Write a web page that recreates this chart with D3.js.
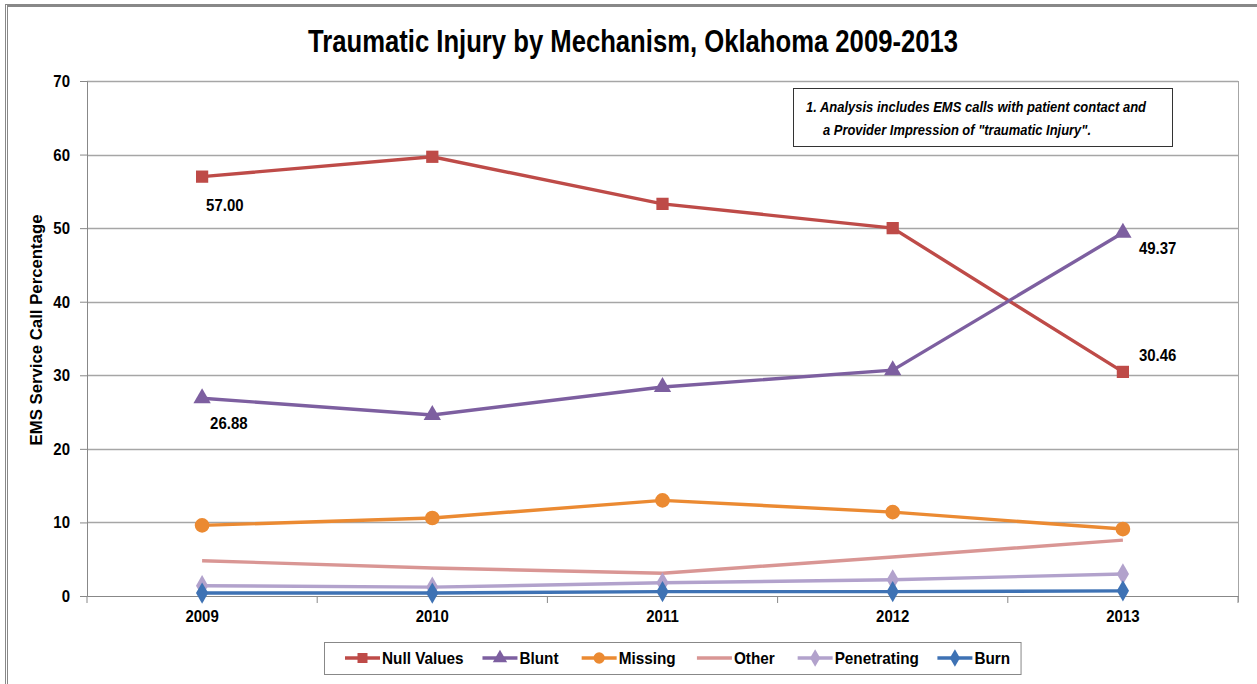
<!DOCTYPE html>
<html>
<head>
<meta charset="utf-8">
<script src="https://cdn.jsdelivr.net/npm/d3@7"></script>
<style>
  body { margin: 0; background: #fff; }
  text { font-family: "Liberation Sans Narrow", "Arial Narrow", "Liberation Sans", Arial, sans-serif; }
</style>
</head>
<body>
<div id="d3-container"></div>
<script>
// Data
const years = ["2009", "2010", "2011", "2012", "2013"];
const nullValues = [57.00, 59.7, 53.3, 50.0, 30.46];
const blunt = [26.88, 24.6, 28.4, 30.7, 49.37];
const missing = [9.6, 10.6, 13.0, 11.4, 9.1];
const other = [4.8, 3.8, 3.1, 5.3, 7.6];
const penetrating = [1.4, 1.2, 1.8, 2.2, 3.0];
const burn = [0.4, 0.4, 0.6, 0.6, 0.7];
const yTicks = [0, 10, 20, 30, 40, 50, 60, 70];

const series = [
  { name: "Null Values", values: nullValues, color: "#BE4B48", marker: "square" },
  { name: "Blunt", values: blunt, color: "#7D5FA0", marker: "triangle" },
  { name: "Missing", values: missing, color: "#EB8A32", marker: "circle" },
  { name: "Other", values: other, color: "#D99694", marker: "none" },
  { name: "Penetrating", values: penetrating, color: "#B2A2CC", marker: "diamond" },
  { name: "Burn", values: burn, color: "#3E72B4", marker: "diamond" }
];

const width = 1257;
const height = 684;
const margin = { top: 81, bottom: 88, left: 87, right: 19 };

const svg = d3.select('#d3-container')
  .append('svg')
  .attr('width', width)
  .attr('height', height);

// squeeze text a bit, the original uses a narrow font
function narrow(sel, k) {
  sel.each(function () {
    const w = this.getComputedTextLength();
    d3.select(this).attr("textLength", w * k).attr("lengthAdjust", "spacingAndGlyphs");
  });
}

// outer frame
svg.append("rect")
  .attr("x", 6.5).attr("y", 5.5)
  .attr("width", width + 20).attr("height", height + 20)
  .attr("fill", "none").attr("stroke", "#888").attr("stroke-width", 3);
svg.append("line")
  .attr("x1", 6.5).attr("x2", 6.5).attr("y1", 5).attr("y2", height)
  .attr("stroke", "#fff").attr("stroke-width", 1);

const x = d3.scaleBand()
  .domain(years)
  .range([margin.left, width - margin.right]);

const y = d3.scaleLinear()
  .domain([0, 70])
  .range([height - margin.bottom, margin.top]);

const cx = d => x(d) + x.bandwidth() / 2;

// Title
svg.append("text")
  .attr("x", 633)
  .attr("y", 52)
  .attr("text-anchor", "middle")
  .attr("font-size", "32px")
  .attr("font-weight", "bold")
  .attr("textLength", 650)
  .attr("lengthAdjust", "spacingAndGlyphs")
  .text("Traumatic Injury by Mechanism, Oklahoma 2009-2013");

// Horizontal grid lines
svg.selectAll(".grid")
  .data(yTicks.filter(d => d > 0))
  .enter()
  .append("line")
  .attr("x1", margin.left)
  .attr("x2", width - margin.right)
  .attr("y1", d => Math.round(y(d)) + 0.5)
  .attr("y2", d => Math.round(y(d)) + 0.5)
  .style("stroke", "#A6A6A6")
  .style("stroke-width", 1.5);

// right border of plot area
svg.append("line")
  .attr("x1", width - margin.right + 0.5).attr("x2", width - margin.right + 0.5)
  .attr("y1", margin.top).attr("y2", y(0) + 6)
  .style("stroke", "#A6A6A6");

// Axes
const yAxis = svg.append("g")
  .attr("transform", `translate(${margin.left},0)`)
  .call(d3.axisLeft(y).tickValues(yTicks).tickSize(7).tickPadding(10));
yAxis.select(".domain").attr("stroke", "#888");
yAxis.selectAll(".tick line").attr("stroke", "#888");
yAxis.selectAll("text")
  .attr("font-size", "17px").attr("font-weight", "bold").attr("fill", "#000")
  .attr("font-family", "'Liberation Sans Narrow', 'Arial Narrow', sans-serif");
narrow(yAxis.selectAll("text"), 0.88);

const xAxis = svg.append("g")
  .attr("transform", `translate(0,${y(0)})`)
  .call(d3.axisBottom(x).tickSize(0).tickPadding(14));
xAxis.select(".domain").attr("stroke", "#888");
xAxis.selectAll("text")
  .attr("font-size", "17px").attr("font-weight", "bold").attr("fill", "#000")
  .attr("font-family", "'Liberation Sans Narrow', 'Arial Narrow', sans-serif");
narrow(xAxis.selectAll("text"), 0.88);

// tick marks between categories
svg.selectAll(".xtick")
  .data(years.concat(["end"]))
  .enter()
  .append("line")
  .attr("x1", (d, i) => (i < years.length ? x(d) : x(years[years.length - 1]) + x.bandwidth()))
  .attr("x2", (d, i) => (i < years.length ? x(d) : x(years[years.length - 1]) + x.bandwidth()))
  .attr("y1", y(0))
  .attr("y2", y(0) + 7)
  .style("stroke", "#888");

// Y-axis label
svg.append("text")
  .attr("transform", `translate(42, 330) rotate(-90)`)
  .attr("text-anchor", "middle")
  .attr("font-size", "17px")
  .attr("font-weight", "bold")
  .attr("textLength", 231)
  .attr("lengthAdjust", "spacingAndGlyphs")
  .text("EMS Service Call Percentage");

// Marker drawing
function drawMarker(g, type, color, size) {
  if (type === "none") return;
  const symType = {
    square: d3.symbolSquare,
    triangle: d3.symbolTriangle,
    circle: d3.symbolCircle,
    diamond: d3.symbolDiamond
  }[type];
  g.append("path")
    .attr("d", d3.symbol().type(symType).size(size[type]))
    .attr("fill", color);
}
const markerSize = { square: 150, triangle: 130, circle: 170, diamond: 130 };

// Lines
const line = d3.line()
  .x((d, i) => cx(years[i]))
  .y(d => y(d));

series.forEach(s => {
  svg.append("path")
    .datum(s.values)
    .attr("d", line)
    .attr("fill", "none")
    .attr("stroke", s.color)
    .attr("stroke-width", 3.4);

  s.values.forEach((v, i) => {
    const g = svg.append("g")
      .attr("transform", `translate(${cx(years[i])},${y(v)})`);
    drawMarker(g, s.marker, s.color, markerSize);
  });
});

// Data labels
const dataLabels = [
  { series: nullValues, i: 0, dx: 4, dy: 34 },
  { series: blunt, i: 0, dx: 8, dy: 31 },
  { series: blunt, i: 4, dx: 16, dy: 21 },
  { series: nullValues, i: 4, dx: 16, dy: -11 }
];
const dl = svg.selectAll(".data-label")
  .data(dataLabels)
  .enter()
  .append("text")
  .attr("x", d => cx(years[d.i]) + d.dx)
  .attr("y", d => y(d.series[d.i]) + d.dy)
  .attr("font-size", "17px")
  .attr("font-weight", "bold")
  .text(d => d.series[d.i].toFixed(2));
narrow(dl, 0.88);

// Annotation box
svg.append("rect")
  .attr("x", 793.5).attr("y", 88.5)
  .attr("width", 379).attr("height", 58)
  .attr("fill", "#fff").attr("stroke", "#333").attr("stroke-width", 1);
svg.append("text")
  .attr("x", 806).attr("y", 112)
  .attr("font-size", "15px").attr("font-weight", "bold").attr("font-style", "italic")
  .attr("textLength", 340).attr("lengthAdjust", "spacingAndGlyphs")
  .text("1.  Analysis includes EMS calls with patient contact and");
svg.append("text")
  .attr("x", 823).attr("y", 135)
  .attr("font-size", "15px").attr("font-weight", "bold").attr("font-style", "italic")
  .attr("textLength", 268).attr("lengthAdjust", "spacingAndGlyphs")
  .text("a Provider Impression of  \"traumatic Injury\".");

// Legend
const legend = svg.append("g");
const legendBox = legend.append("rect")
  .attr("y", 642.5).attr("height", 32)
  .attr("fill", "#fff").attr("stroke", "#888");
let lx = 0;
const gap = 27;
const items = legend.append("g");
series.forEach(s => {
  const it = items.append("g").attr("transform", `translate(${lx},0)`);
  it.append("line")
    .attr("x1", 0).attr("x2", 35).attr("y1", 658).attr("y2", 658)
    .attr("stroke", s.color).attr("stroke-width", 3.4);
  const m = it.append("g").attr("transform", "translate(17.5,658)");
  drawMarker(m, s.marker, s.color, { square: 100, triangle: 90, circle: 100, diamond: 90 });
  const t = it.append("text")
    .attr("x", 37).attr("y", 664)
    .attr("font-size", "17px").attr("font-weight", "bold")
    .text(s.name);
  narrow(t, 0.9);
  lx += 37 + t.node().getComputedTextLength() * 0.9 + gap;
});
const legendWidth = lx - gap;
const lStart = 345;
items.attr("transform", `translate(${lStart},0)`);
legendBox.attr("x", lStart - 20.5).attr("width", legendWidth + 35);
</script>
</body>
</html>
